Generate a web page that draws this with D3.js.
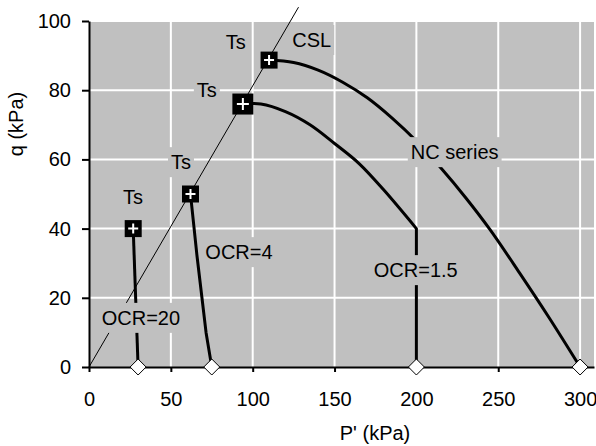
<!DOCTYPE html>
<html>
<head>
<meta charset="utf-8">
<script src="https://cdn.jsdelivr.net/npm/d3@7"></script>
<style>
  body { margin: 0; background: #fff; }
  svg { display: block; font-family: "Liberation Sans", Arial, sans-serif; }
</style>
</head>
<body>
<svg id="chart"></svg>
<script>
// stress paths, p' (kPa) / q (kPa)
const ocr20 = [[30, 0], [27, 40]];
const ocr4 = [[62, 50], [64, 41], [66, 32], [69, 20], [71.5, 10], [75, 0]];
const ocr15 = [[94, 76], [105, 76], [120, 73.8], [135, 70], [150, 64.6], [165, 58.8], [180, 51.2], [200, 40], [200, 0]];
const ncSeries = [[110, 88.7], [125, 88], [140, 85.8], [155, 82.3], [170, 77.8], [185, 72], [200, 65.3], [215, 57.5], [230, 49], [245, 39.7], [263, 27.2], [281, 14.3], [300, 0]];
const csl = [[0, 0], [128, 104]];

// Ts (critical state) points
const tsP = [27, 62, 94, 110];
const tsQ = [40, 50, 76, 88.7];

// start points (consolidation p')
const startP = [30, 75, 200, 300];

const xTicks = [0, 50, 100, 150, 200, 250, 300];
const yTicks = [0, 20, 40, 60, 80, 100];

// annotation texts and where they sit (data coords)
const labelText = ["Ts", "Ts", "Ts", "Ts", "CSL", "NC series", "OCR=1.5", "OCR=4", "OCR=20"];
const labelP = [26.9, 56.2, 72, 89.7, 136.1, 223.4, 199.6, 91.6, 31.7];
const labelQ = [49.1, 59.2, 80, 93.9, 94.5, 62.1, 28, 33.2, 14.2];

const W = 596, H = 446;
const svg = d3.select("#chart").attr("width", W).attr("height", H);

const x = d3.scaleLinear().domain([0, 308.5]).range([89, 594]);
const y = d3.scaleLinear().domain([0, 100]).range([367, 21]);

// plot area
svg.append("rect")
  .attr("x", x(0)).attr("y", y(100) - 1)
  .attr("width", x(308.5) - x(0)).attr("height", y(0) - y(100) + 1)
  .attr("fill", "#c0c0c0");

// grid
svg.append("g").selectAll("line")
  .data(xTicks.filter(d => d > 0))
  .join("line")
  .attr("x1", d => x(d)).attr("x2", d => x(d))
  .attr("y1", y(100)).attr("y2", y(0))
  .attr("stroke", "#fff").attr("stroke-width", 2);

svg.append("g").selectAll("line")
  .data(yTicks.filter(d => d > 0))
  .join("line")
  .attr("x1", x(0)).attr("x2", x(308.5))
  .attr("y1", d => y(d)).attr("y2", d => y(d))
  .attr("stroke", "#fff").attr("stroke-width", 2);

const line = d3.line().x(d => x(d[0])).y(d => y(d[1]));
const smooth = d3.line().x(d => x(d[0])).y(d => y(d[1])).curve(d3.curveCatmullRom.alpha(0.5));

// CSL (thin)
svg.append("path").datum(csl)
  .attr("d", line).attr("fill", "none")
  .attr("stroke", "#000").attr("stroke-width", 1);

// stress paths (thick): curved parts smoothed, straight legs plain
const last = ocr15[ocr15.length - 1];
const paths = [
  line(ocr20),
  line(ocr4),
  smooth(ocr15.slice(0, -1)) + "L" + x(last[0]) + "," + y(last[1]),
  smooth(ncSeries)
];
svg.append("g").selectAll("path")
  .data(paths)
  .join("path")
  .attr("d", d => d).attr("fill", "none")
  .attr("stroke", "#000").attr("stroke-width", 3)
  .attr("stroke-linejoin", "round");

// axes
const xAxis = d3.axisBottom(x).tickValues(xTicks).tickSize(5).tickSizeOuter(0).tickPadding(20);
const yAxis = d3.axisLeft(y).tickValues(yTicks).tickSize(7).tickSizeOuter(0).tickPadding(11);

const gx = svg.append("g").attr("transform", `translate(0,${y(0)})`).call(xAxis);
const gy = svg.append("g").attr("transform", `translate(${x(0)},0)`).call(yAxis);
[gx, gy].forEach(g => {
  g.selectAll("path, line").attr("stroke", "#000").attr("stroke-width", 2);
  g.selectAll("text").attr("font-size", 20).attr("fill", "#000")
    .attr("font-family", "'Liberation Sans', Arial, sans-serif");
});

// start point diamonds
svg.append("g").selectAll("path")
  .data(startP)
  .join("path")
  .attr("transform", d => `translate(${x(d)},${y(0)})`)
  .attr("d", "M0,-8L8,0L0,8L-8,0Z")
  .attr("fill", "#fff").attr("stroke", "#000").attr("stroke-width", 1);

// Ts markers: black square with white plus
const ts = svg.append("g").selectAll("g")
  .data(tsP.map((p, i) => ({ p, q: tsQ[i], big: i === 2 })))
  .join("g")
  .attr("transform", d => `translate(${x(d.p)},${y(d.q)})`);
ts.append("rect")
  .attr("x", d => d.big ? -10.5 : -8.5).attr("y", d => d.big ? -10.5 : -8.5)
  .attr("width", d => d.big ? 21 : 17).attr("height", d => d.big ? 21 : 17)
  .attr("fill", "#000");
ts.append("path")
  .attr("d", d => d.big ? "M-6,0H6M0,-6V6" : "M-5,0H5M0,-5V5")
  .attr("stroke", "#fff").attr("stroke-width", 2);

// annotation labels with plot-coloured backing
const lab = svg.append("g").selectAll("g")
  .data(labelText.map((t, i) => ({ t, p: labelP[i], q: labelQ[i] })))
  .join("g")
  .attr("transform", d => `translate(${x(d.p)},${y(d.q)})`);
lab.append("text")
  .text(d => d.t)
  .attr("text-anchor", "middle")
  .attr("dy", "0.35em")
  .attr("font-size", 20)
  .attr("fill", "#000");
lab.each(function () {
  const g = d3.select(this);
  const bb = g.select("text").node().getBBox();
  g.insert("rect", "text")
    .attr("x", bb.x - 3).attr("y", -15)
    .attr("width", bb.width + 6).attr("height", 30)
    .attr("fill", "#c0c0c0");
});

// axis titles
svg.append("text")
  .attr("x", 375).attr("y", 433).attr("dy", "0.35em")
  .attr("text-anchor", "middle").attr("font-size", 20)
  .text("P' (kPa)");
svg.append("text")
  .attr("transform", "translate(16,124) rotate(-90)")
  .attr("dy", "0.35em")
  .attr("text-anchor", "middle").attr("font-size", 20)
  .text("q (kPa)");
</script>
</body>
</html>
